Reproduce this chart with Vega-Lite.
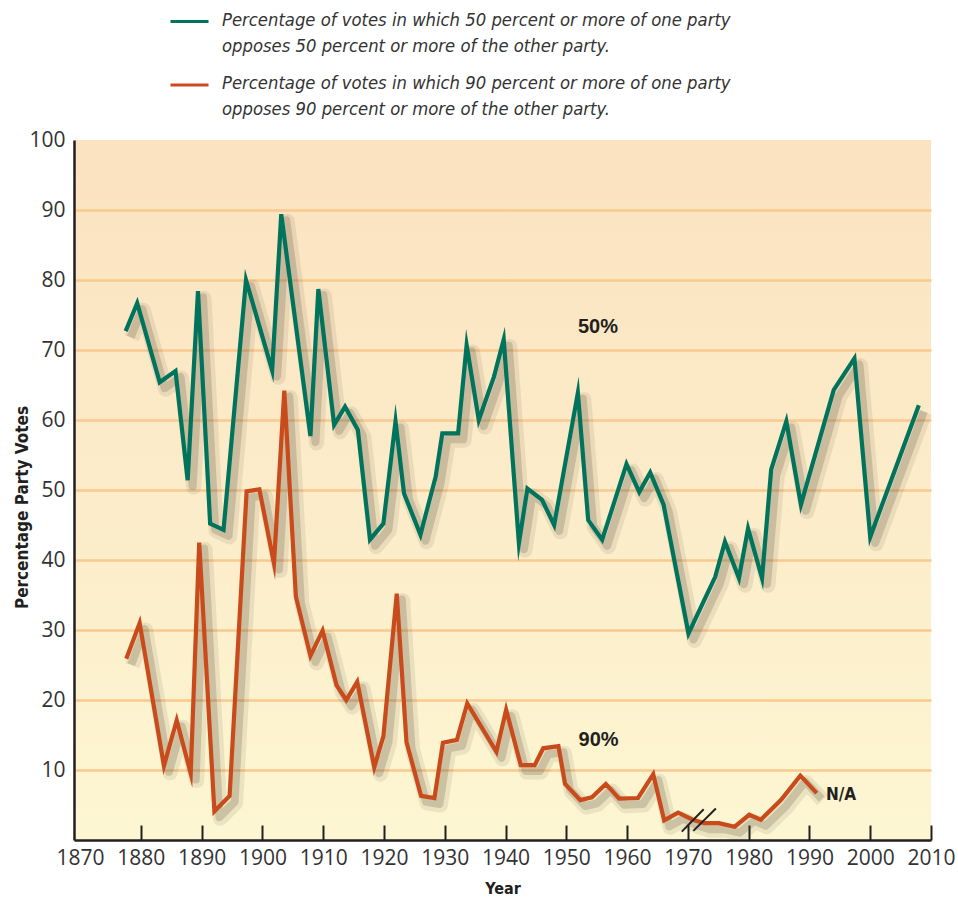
{
  "$schema": "https://vega.github.io/schema/vega-lite/v6.json",
  "autosize": {"type": "none"},
  "padding": {"left": 74, "top": 140, "right": 27, "bottom": 57},
  "width": 857,
  "height": 700,
  "background": "white",
  "view": {
    "stroke": null,
    "fill": {"gradient": "linear", "x1": 0, "y1": 0, "x2": 0, "y2": 1,
      "stops": [{"offset": 0, "color": "#fbe2c0"}, {"offset": 1, "color": "#fdf6d2"}]}
  },
  "datasets": {
    "rows": [
      {"year": 1877.5, "value": 72.7, "series": "50%"},
      {"year": 1879.4, "value": 76.7, "series": "50%"},
      {"year": 1883.1, "value": 65.4, "series": "50%"},
      {"year": 1885.7, "value": 67.0, "series": "50%"},
      {"year": 1887.7, "value": 51.4, "series": "50%"},
      {"year": 1889.4, "value": 78.4, "series": "50%"},
      {"year": 1891.4, "value": 45.2, "series": "50%"},
      {"year": 1893.6, "value": 44.3, "series": "50%"},
      {"year": 1897.3, "value": 80.0, "series": "50%"},
      {"year": 1901.6, "value": 67.1, "series": "50%"},
      {"year": 1903.1, "value": 89.4, "series": "50%"},
      {"year": 1907.9, "value": 57.7, "series": "50%"},
      {"year": 1909.2, "value": 78.7, "series": "50%"},
      {"year": 1911.8, "value": 59.3, "series": "50%"},
      {"year": 1913.6, "value": 61.9, "series": "50%"},
      {"year": 1915.7, "value": 58.6, "series": "50%"},
      {"year": 1917.7, "value": 42.9, "series": "50%"},
      {"year": 1919.9, "value": 45.2, "series": "50%"},
      {"year": 1921.9, "value": 59.8, "series": "50%"},
      {"year": 1923.3, "value": 49.5, "series": "50%"},
      {"year": 1926.0, "value": 43.6, "series": "50%"},
      {"year": 1928.5, "value": 51.9, "series": "50%"},
      {"year": 1929.6, "value": 58.1, "series": "50%"},
      {"year": 1932.2, "value": 58.1, "series": "50%"},
      {"year": 1933.6, "value": 70.7, "series": "50%"},
      {"year": 1935.6, "value": 60.0, "series": "50%"},
      {"year": 1938.1, "value": 66.2, "series": "50%"},
      {"year": 1939.7, "value": 71.5, "series": "50%"},
      {"year": 1942.2, "value": 42.4, "series": "50%"},
      {"year": 1943.6, "value": 50.2, "series": "50%"},
      {"year": 1946.0, "value": 48.6, "series": "50%"},
      {"year": 1948.0, "value": 45.0, "series": "50%"},
      {"year": 1951.9, "value": 63.9, "series": "50%"},
      {"year": 1953.6, "value": 45.7, "series": "50%"},
      {"year": 1955.9, "value": 42.9, "series": "50%"},
      {"year": 1959.9, "value": 53.7, "series": "50%"},
      {"year": 1962.0, "value": 49.7, "series": "50%"},
      {"year": 1963.8, "value": 52.5, "series": "50%"},
      {"year": 1966.0, "value": 47.9, "series": "50%"},
      {"year": 1970.1, "value": 29.5, "series": "50%"},
      {"year": 1974.5, "value": 37.6, "series": "50%"},
      {"year": 1976.1, "value": 42.6, "series": "50%"},
      {"year": 1978.4, "value": 37.4, "series": "50%"},
      {"year": 1979.9, "value": 44.5, "series": "50%"},
      {"year": 1982.2, "value": 37.4, "series": "50%"},
      {"year": 1983.7, "value": 52.9, "series": "50%"},
      {"year": 1986.2, "value": 59.8, "series": "50%"},
      {"year": 1988.6, "value": 47.9, "series": "50%"},
      {"year": 1994.0, "value": 64.3, "series": "50%"},
      {"year": 1997.4, "value": 68.8, "series": "50%"},
      {"year": 2000.0, "value": 43.3, "series": "50%"},
      {"year": 2008.0, "value": 62.1, "series": "50%"},
      {"year": 1877.6, "value": 25.9, "series": "90%"},
      {"year": 1879.8, "value": 31.0, "series": "90%"},
      {"year": 1883.8, "value": 10.6, "series": "90%"},
      {"year": 1885.9, "value": 17.1, "series": "90%"},
      {"year": 1888.2, "value": 9.5, "series": "90%"},
      {"year": 1889.6, "value": 42.5, "series": "90%"},
      {"year": 1892.1, "value": 4.1, "series": "90%"},
      {"year": 1894.6, "value": 6.3, "series": "90%"},
      {"year": 1897.4, "value": 49.8, "series": "90%"},
      {"year": 1899.5, "value": 50.1, "series": "90%"},
      {"year": 1901.9, "value": 39.5, "series": "90%"},
      {"year": 1903.6, "value": 64.2, "series": "90%"},
      {"year": 1905.5, "value": 34.8, "series": "90%"},
      {"year": 1907.9, "value": 26.3, "series": "90%"},
      {"year": 1909.9, "value": 29.9, "series": "90%"},
      {"year": 1912.2, "value": 22.1, "series": "90%"},
      {"year": 1913.8, "value": 20.0, "series": "90%"},
      {"year": 1915.6, "value": 22.6, "series": "90%"},
      {"year": 1918.4, "value": 10.4, "series": "90%"},
      {"year": 1919.9, "value": 14.8, "series": "90%"},
      {"year": 1922.1, "value": 35.2, "series": "90%"},
      {"year": 1923.7, "value": 14.0, "series": "90%"},
      {"year": 1926.1, "value": 6.3, "series": "90%"},
      {"year": 1928.3, "value": 6.0, "series": "90%"},
      {"year": 1929.7, "value": 13.9, "series": "90%"},
      {"year": 1932.0, "value": 14.3, "series": "90%"},
      {"year": 1933.7, "value": 19.5, "series": "90%"},
      {"year": 1938.5, "value": 12.6, "series": "90%"},
      {"year": 1940.1, "value": 18.6, "series": "90%"},
      {"year": 1942.5, "value": 10.7, "series": "90%"},
      {"year": 1944.8, "value": 10.7, "series": "90%"},
      {"year": 1946.2, "value": 13.1, "series": "90%"},
      {"year": 1948.7, "value": 13.4, "series": "90%"},
      {"year": 1949.8, "value": 8.0, "series": "90%"},
      {"year": 1952.3, "value": 5.7, "series": "90%"},
      {"year": 1954.2, "value": 6.1, "series": "90%"},
      {"year": 1956.5, "value": 8.0, "series": "90%"},
      {"year": 1958.7, "value": 5.9, "series": "90%"},
      {"year": 1961.8, "value": 6.0, "series": "90%"},
      {"year": 1964.3, "value": 9.4, "series": "90%"},
      {"year": 1966.1, "value": 2.8, "series": "90%"},
      {"year": 1968.4, "value": 3.9, "series": "90%"},
      {"year": 1970.8, "value": 2.9, "series": "90%"},
      {"year": 1972.7, "value": 2.4, "series": "90%"},
      {"year": 1975.1, "value": 2.4, "series": "90%"},
      {"year": 1977.7, "value": 1.9, "series": "90%"},
      {"year": 1980.1, "value": 3.6, "series": "90%"},
      {"year": 1982.0, "value": 2.9, "series": "90%"},
      {"year": 1985.3, "value": 5.7, "series": "90%"},
      {"year": 1988.5, "value": 9.2, "series": "90%"},
      {"year": 1991.2, "value": 6.7, "series": "90%"}
    ],
    "notes": [
      {"year": 1955.2, "value": 73.3, "label": "50%"},
      {"year": 1955.3, "value": 14.3, "label": "90%"}
    ],
    "na": [
      {"year": 1995.2, "value": 6.4, "label": "N/A"}
    ],
    "breaks": [
      {"year": 1969.0, "value": 1.2, "year2": 1972.6, "value2": 4.4},
      {"year": 1970.9, "value": 1.3, "year2": 1974.6, "value2": 4.5}
    ]
  },
  "encoding": {
    "x": {
      "field": "year", "type": "quantitative",
      "scale": {"domain": [1869, 2010], "nice": false, "zero": false},
      "axis": {
        "values": [1870, 1880, 1890, 1900, 1910, 1920, 1930, 1940, 1950, 1960, 1970, 1980, 1990, 2000, 2010],
        "format": "d",
        "title": "Year",
        "grid": false,
        "tickSize": -15,
        "tickWidth": 2,
        "tickColor": {"condition": {"test": "datum.value == 1870", "value": "transparent"}, "value": "#231f20"},
        "labelPadding": 22,
        "labelDx": 3,
        "labelFlush": false,
        "labelOverlap": false,
        "labelFont": "Open Sans",
        "labelFontSize": 21,
        "labelColor": "#333333",
        "domainColor": "#231f20",
        "domainWidth": 2.5,
        "titleFont": "DejaVu Sans Condensed",
        "titleFontSize": 16,
        "titleFontWeight": "bold",
        "titleColor": "#231f20",
        "titlePadding": 12
      }
    },
    "y": {
      "field": "value", "type": "quantitative",
      "scale": {"domain": [0, 100], "nice": false},
      "axis": {
        "values": [10, 20, 30, 40, 50, 60, 70, 80, 90, 100],
        "title": "Percentage Party Votes",
        "ticks": false,
        "labelPadding": 9,
        "labelFont": "Open Sans",
        "labelFontSize": 21,
        "labelColor": "#333333",
        "grid": true,
        "gridColor": {"condition": {"test": "datum.value == 100", "value": "transparent"}, "value": "#f9c98f"},
        "gridWidth": 2.5,
        "domainColor": "#231f20",
        "domainWidth": 2.5,
        "titleFont": "DejaVu Sans Condensed",
        "titleFontSize": 17,
        "titleFontWeight": "bold",
        "titleColor": "#231f20",
        "titleBaseline": "middle",
        "titleX": -52,
        "titleY": 367
      }
    }
  },
  "layer": [
    {
      "data": {"name": "rows"},
      "mark": {"type": "line", "stroke": "#4a4030", "opacity": 0.1, "strokeWidth": 15, "xOffset": 6, "yOffset": 7, "strokeJoin": "round"},
      "encoding": {"detail": {"field": "series"}}
    },
    {
      "data": {"name": "rows"},
      "mark": {"type": "line", "stroke": "#4a4030", "opacity": 0.2, "strokeWidth": 8, "xOffset": 5, "yOffset": 6, "strokeJoin": "round"},
      "encoding": {"detail": {"field": "series"}}
    },
    {
      "data": {"name": "rows"},
      "mark": {"type": "line", "strokeWidth": 4.2, "strokeJoin": "miter", "strokeMiterLimit": 10},
      "encoding": {
        "color": {
          "field": "series", "type": "nominal",
          "scale": {"domain": ["50%", "90%"], "range": ["#00735c", "#c94b1c"]},
          "legend": {
            "orient": "none",
            "legendX": 95,
            "legendY": -139,
            "direction": "vertical",
            "title": null,
            "padding": 0,
            "symbolType": "stroke",
            "symbolSize": 1444,
            "symbolStrokeWidth": 3,
            "labelFont": "DejaVu Sans Condensed",
            "labelFontStyle": "italic",
            "labelFontSize": 18.3,
            "labelColor": "#333333",
            "labelLimit": 800,
            "labelOffset": 12,
            "rowPadding": 9.5,
            "labelBaseline": "top",
            "labelExpr": "datum.label == '50%' ? ['Percentage of votes in which 50 percent or more of one party', 'opposes 50 percent or more of the other party.'] : ['Percentage of votes in which 90 percent or more of one party', 'opposes 90 percent or more of the other party.']",
            "encode": {"labels": {"update": {"lineHeight": {"value": 26}, "dy": {"value": -10}}}}
          }
        }
      }
    },
    {
      "data": {"name": "breaks"},
      "mark": {"type": "rule", "stroke": "#231f20", "strokeWidth": 2},
      "encoding": {"x2": {"field": "year2"}, "y2": {"field": "value2"}}
    },
    {
      "data": {"name": "notes"},
      "mark": {"type": "text", "font": "Liberation Sans", "fontWeight": "bold", "fontSize": 20, "color": "#231f20", "align": "center", "baseline": "middle"},
      "encoding": {"text": {"field": "label"}}
    },
    {
      "data": {"name": "na"},
      "mark": {"type": "text", "font": "DejaVu Sans Condensed", "fontWeight": "bold", "fontSize": 17, "color": "#231f20", "align": "center", "baseline": "middle"},
      "encoding": {"text": {"field": "label"}}
    }
  ]
}
